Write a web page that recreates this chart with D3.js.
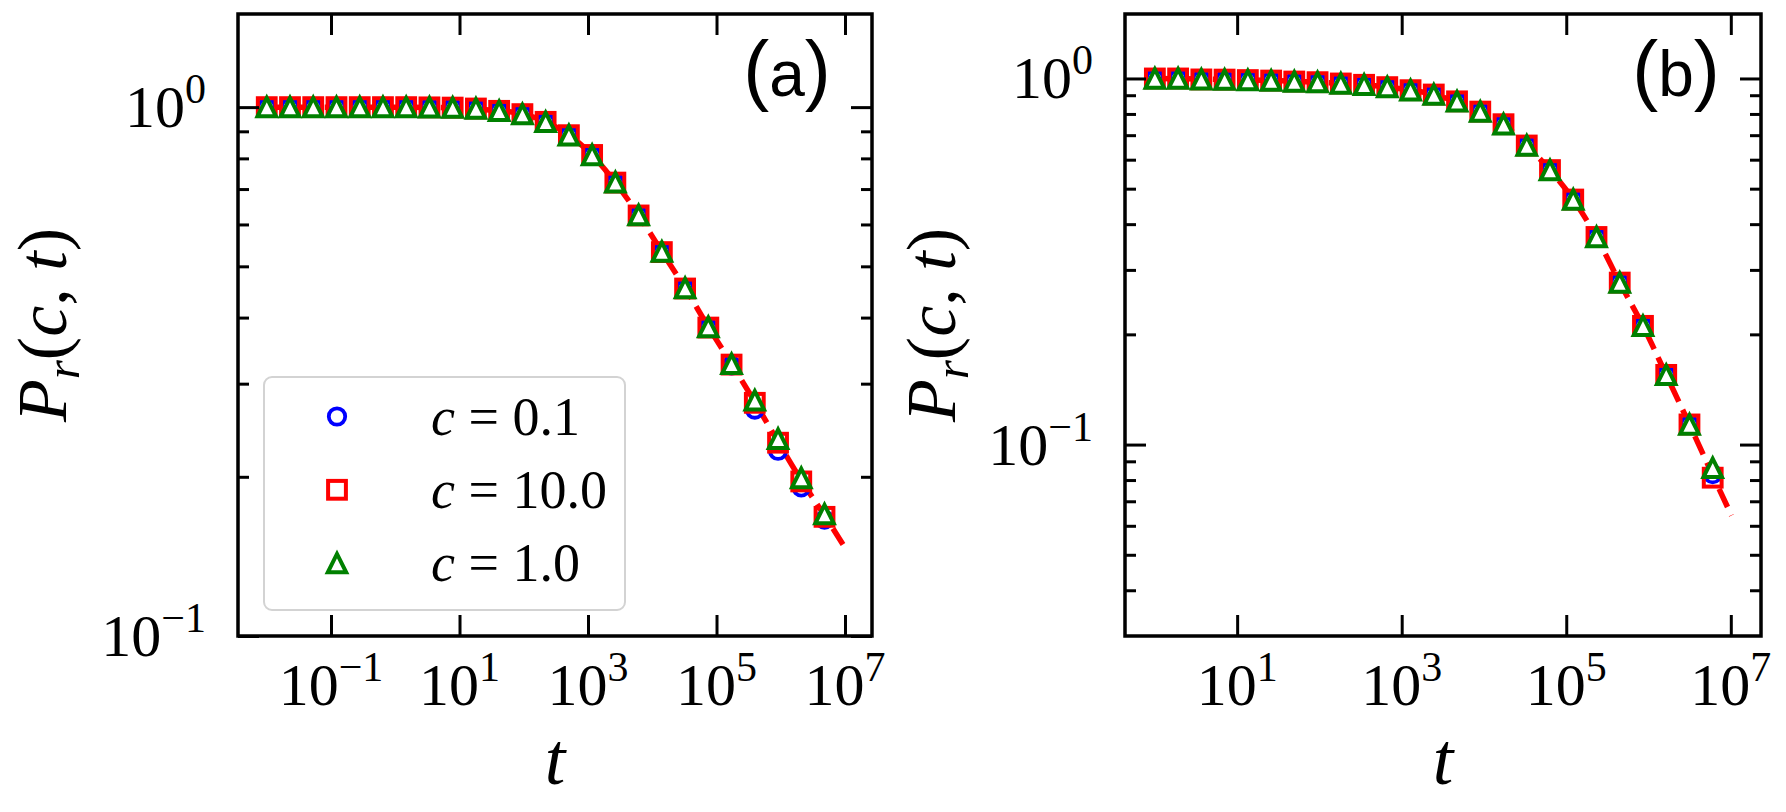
<!DOCTYPE html>
<html>
<head>
<meta charset="utf-8">
<script src="https://cdn.jsdelivr.net/npm/d3@7"></script>
<style>
  body { margin: 0; background: #fff; }
</style>
</head>
<body>
<div id="chart"></div>
<script>
// ---- data ----
// panel (a)
const tA = [0.01, 0.023, 0.0529, 0.1217, 0.2799, 0.6437, 1.48, 3.405, 7.83, 18.0, 41.4, 95.3,
            219, 504, 1159, 2665, 6130, 14100, 32430, 74590, 171500, 394500, 907000, 2085000, 4797000];
const pA_c01 = [1.0, 1.0, 1.0, 1.0, 1.0, 1.0, 1.0, 0.999, 0.998, 0.994, 0.984, 0.970, 0.938, 0.885,
                0.812, 0.720, 0.624, 0.532, 0.454, 0.383, 0.325, 0.268, 0.224, 0.191, 0.166];
const pA_c10 = [1.0, 1.0, 1.0, 1.0, 1.0, 1.0, 1.0, 0.999, 0.998, 0.994, 0.984, 0.970, 0.938, 0.885,
                0.812, 0.720, 0.624, 0.532, 0.454, 0.383, 0.326, 0.276, 0.232, 0.196, 0.168];
const pA_c1  = [1.0, 1.0, 1.0, 1.0, 1.0, 1.0, 1.0, 0.999, 0.998, 0.994, 0.984, 0.970, 0.938, 0.885,
                0.812, 0.721, 0.625, 0.533, 0.455, 0.384, 0.327, 0.279, 0.236, 0.199, 0.170];
const lineA_t = [0.01, 1.48, 41.4, 219, 504, 1159, 2665, 6130, 14100, 32430, 74590, 171500,
                 394500, 907000, 2085000, 4797000, 9300000];
const lineA_p = [1.0, 1.0, 0.985, 0.938, 0.886, 0.812, 0.720, 0.625, 0.533, 0.455, 0.384, 0.327,
                 0.277, 0.233, 0.197, 0.169, 0.149];

// panel (b)
const tB = [1, 1.917, 3.673, 7.04, 13.49, 25.9, 49.5, 94.9, 182, 349, 668, 1281, 2455, 4705,
            9016, 17280, 33110, 63460, 121600, 233100, 446700, 856000, 1641000, 3145000, 6026000];
const pB_c01 = [1.0, 1.0, 0.994, 0.993, 0.990, 0.987, 0.981, 0.977, 0.969, 0.961, 0.947, 0.929, 0.904,
                0.866, 0.812, 0.750, 0.656, 0.562, 0.467, 0.369, 0.277, 0.211, 0.155, 0.1135, 0.0830];
const pB_c10 = [1.0, 1.0, 0.994, 0.993, 0.990, 0.987, 0.981, 0.977, 0.969, 0.961, 0.947, 0.929, 0.904,
                0.866, 0.812, 0.750, 0.656, 0.562, 0.467, 0.369, 0.277, 0.211, 0.155, 0.1135, 0.0812];
const pB_c1  = [1.0, 1.0, 0.994, 0.993, 0.990, 0.987, 0.981, 0.977, 0.969, 0.961, 0.947, 0.929, 0.904,
                0.866, 0.812, 0.750, 0.656, 0.562, 0.467, 0.369, 0.277, 0.211, 0.155, 0.1135, 0.0864];
const lineB_t = [1, 94.9, 668, 2455, 9016, 17280, 33110, 63460, 121600, 233100, 446700, 856000,
                 1641000, 3145000, 6026000, 10200000];
const lineB_p = [1.0, 0.977, 0.947, 0.904, 0.812, 0.750, 0.656, 0.562, 0.467, 0.369, 0.277, 0.211,
                 0.155, 0.1135, 0.0825, 0.064];

// ticks
const xTickExpA = [-1, 1, 3, 5, 7];
const xTickExpB = [1, 3, 5, 7];
const yTickExp = [-1, 0];
const yMinorA = [0.2, 0.3, 0.4, 0.5, 0.6, 0.7, 0.8, 0.9];
const yMinorB = [0.04, 0.05, 0.06, 0.07, 0.08, 0.09, 0.2, 0.3, 0.4, 0.5, 0.6, 0.7, 0.8, 0.9];

// legend
const legendValues = ["0.1", "10.0", "1.0"];
const seriesColors = ["#0000ff", "#ff0000", "#008000"];
const seriesShapes = ["circle", "square", "triangle"];

const SERIF = "'Liberation Serif', 'Times New Roman', Times, serif";
const SANS = "'Liberation Sans', Arial, sans-serif";
const W = 1786, H = 812;

const svg = d3.select("#chart").append("svg")
    .attr("width", W)
    .attr("height", H);

function drawMarker(g, shape, color, cx, cy) {
    if (shape === "circle") {
        g.append("circle").attr("cx", cx).attr("cy", cy).attr("r", 8.2)
            .attr("fill", "#fff").attr("stroke", color).attr("stroke-width", 3.8);
    } else if (shape === "square") {
        g.append("rect").attr("x", cx - 8.9).attr("y", cy - 8.9).attr("width", 17.8).attr("height", 17.8)
            .attr("fill", "none").attr("stroke", color).attr("stroke-width", 4);
    } else {
        const s = 9.2;
        g.append("path")
            .attr("d", `M${cx},${cy - s}L${cx - s},${cy + s}L${cx + s},${cy + s}Z`)
            .attr("fill", "#fff").attr("stroke", color).attr("stroke-width", 4)
            .attr("stroke-linejoin", "miter");
    }
}

function powLabel(g, x, y, exp, anchor) {
    const txt = g.append("text")
        .attr("x", x).attr("y", y)
        .attr("text-anchor", anchor)
        .attr("font-family", SERIF)
        .attr("font-size", 60);
    txt.append("tspan").text("10");
    txt.append("tspan").attr("dy", -24).attr("font-size", 42)
        .text(exp < 0 ? "\u2212" + Math.abs(exp) : String(exp));
}

function drawPanel(cfg) {
    const b = cfg.box;
    const g = svg.append("g");

    const x = d3.scaleLog().domain(cfg.xDomain).range([b.left, b.right]);
    const y = d3.scaleLog().domain(cfg.yDomain).range([b.bottom, b.top]);

    const xTicks = cfg.xTickExp.map(e => Math.pow(10, e));
    const yTicks = yTickExp.map(e => Math.pow(10, e));

    // dashed theory curve
    const line = d3.line()
        .x(d => x(d[0]))
        .y(d => y(d[1]))
        .curve(d3.curveMonotoneX);
    g.append("path")
        .datum(cfg.lineT.map((t, i) => [t, cfg.lineP[i]]))
        .attr("d", line)
        .attr("fill", "none")
        .attr("stroke", "#ff0000")
        .attr("stroke-width", 5.5)
        .attr("stroke-dasharray", "20,9");

    // markers: c=0.1, c=10.0, c=1.0 in plotting order
    cfg.series.forEach((vals, s) => {
        const mg = g.append("g");
        vals.forEach((p, i) => drawMarker(mg, seriesShapes[s], seriesColors[s], x(cfg.t[i]), y(p)));
    });

    // ticks (inward, on all four sides)
    const styleAxis = sel => {
        sel.select(".domain").remove();
        sel.selectAll("line").attr("stroke", "#000").attr("stroke-width", 3);
    };
    g.append("g").attr("transform", `translate(0,${b.bottom})`)
        .call(d3.axisBottom(x).tickValues(xTicks).tickSize(-21).tickFormat(""))
        .call(styleAxis);
    g.append("g").attr("transform", `translate(0,${b.top})`)
        .call(d3.axisTop(x).tickValues(xTicks).tickSize(-21).tickFormat(""))
        .call(styleAxis);
    [["left", b.left], ["right", b.right]].forEach(([side, pos]) => {
        const ax = side === "left" ? d3.axisLeft : d3.axisRight;
        g.append("g").attr("transform", `translate(${pos},0)`)
            .call(ax(y).tickValues(yTicks).tickSize(-21).tickFormat(""))
            .call(styleAxis);
        g.append("g").attr("transform", `translate(${pos},0)`)
            .call(ax(y).tickValues(cfg.yMinor).tickSize(-11).tickFormat(""))
            .call(styleAxis);
    });

    // frame
    g.append("rect")
        .attr("x", b.left).attr("y", b.top)
        .attr("width", b.right - b.left).attr("height", b.bottom - b.top)
        .attr("fill", "none").attr("stroke", "#000").attr("stroke-width", 3.5);

    // tick labels
    cfg.xTickExp.forEach(e => powLabel(g, x(Math.pow(10, e)), b.bottom + 69, e, "middle"));
    yTickExp.forEach(e => powLabel(g, b.left - 32, y(Math.pow(10, e)) + 20, e, "end"));

    // axis labels
    g.append("text")
        .attr("x", (b.left + b.right) / 2).attr("y", b.bottom + 148)
        .attr("text-anchor", "middle")
        .attr("font-family", SERIF)
        .attr("font-size", 74).attr("font-style", "italic")
        .text("t");

    const yl = g.append("text")
        .attr("transform", `translate(${cfg.yLabelX},${(b.top + b.bottom) / 2}) rotate(-90)`)
        .attr("text-anchor", "middle")
        .attr("font-family", SERIF)
        .attr("font-size", 70);
    yl.append("tspan").attr("font-style", "italic").text("P");
    yl.append("tspan").attr("dy", 13).attr("font-size", 49).attr("font-style", "italic").text("r");
    yl.append("tspan").attr("dy", -13).text("(");
    yl.append("tspan").attr("font-style", "italic").text("c");
    yl.append("tspan").text(", ");
    yl.append("tspan").attr("font-style", "italic").text("t");
    yl.append("tspan").text(")");

    // panel tag: tall parentheses around a smaller letter
    const tag = g.append("text")
        .attr("x", b.right - 85).attr("y", b.top + 82)
        .attr("text-anchor", "middle")
        .attr("font-family", SANS);
    tag.append("tspan").attr("font-size", 78).text("(");
    tag.append("tspan").attr("font-size", 64).text(cfg.tag);
    tag.append("tspan").attr("font-size", 78).text(")");

    if (cfg.legend) {
        const lg = g.append("g");
        lg.append("rect")
            .attr("x", 264).attr("y", 377).attr("width", 361).attr("height", 233)
            .attr("rx", 8)
            .attr("fill", "#fff").attr("fill-opacity", 0.8)
            .attr("stroke", "#d3d3d3").attr("stroke-width", 2);
        legendValues.forEach((v, i) => {
            const cy = 416.5 + i * 73.3;
            drawMarker(lg, seriesShapes[i], seriesColors[i], 337, cy);
            const t = lg.append("text")
                .attr("x", 431).attr("y", cy + 18)
                .attr("font-family", SERIF)
                .attr("font-size", 54);
            t.append("tspan").attr("font-style", "italic").text("c");
            t.append("tspan").text(" = " + v);
        });
    }
}

drawPanel({
    box: {left: 238, right: 872, top: 14, bottom: 636},
    xDomain: [Math.pow(10, -2.4475), Math.pow(10, 7.42)],
    yDomain: [0.1, 1.5],
    xTickExp: xTickExpA,
    yMinor: yMinorA,
    t: tA,
    series: [pA_c01, pA_c10, pA_c1],
    lineT: lineA_t, lineP: lineA_p,
    yLabelX: 66,
    tag: "a",
    legend: true
});

drawPanel({
    box: {left: 1125, right: 1761, top: 14, bottom: 636},
    xDomain: [Math.pow(10, -0.363), Math.pow(10, 7.367)],
    yDomain: [0.03, 1.5],
    xTickExp: xTickExpB,
    yMinor: yMinorB,
    t: tB,
    series: [pB_c01, pB_c10, pB_c1],
    lineT: lineB_t, lineP: lineB_p,
    yLabelX: 955,
    tag: "b",
    legend: false
});
</script>
</body>
</html>
